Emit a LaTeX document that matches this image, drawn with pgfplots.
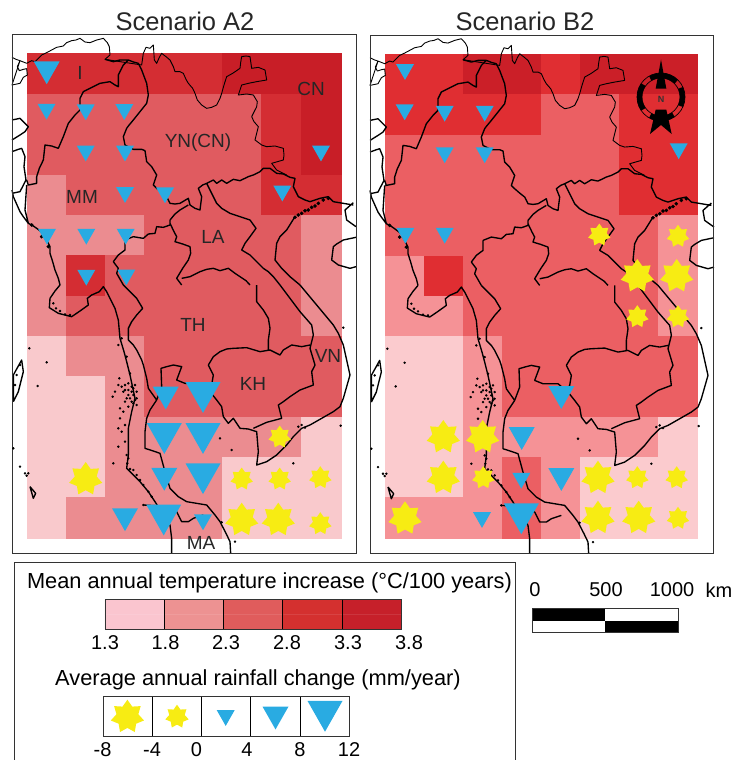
\documentclass[border=0pt]{standalone}
\usepackage{pgfplots}
\usepackage{pgfplotstable}
\pgfplotsset{compat=1.18}
\usepackage{fontspec}
\setmainfont{Liberation Sans}
\pgfplotsset{
 colormap={tA}{rgb255=(249,201,204) rgb255=(235,140,144) rgb255=(224,91,96) rgb255=(212,45,51) rgb255=(200,30,39)},
 colormap={tB}{rgb255=(251,203,206) rgb255=(245,146,150) rgb255=(235,95,99) rgb255=(224,46,50) rgb255=(203,31,40)},
 colormap={tL}{rgb255=(250,197,207) rgb255=(237,146,146) rgb255=(224,92,92) rgb255=(212,48,47) rgb255=(198,32,42)}
}
\definecolor{tri}{RGB}{41,171,226}
\definecolor{sta}{RGB}{247,236,19}
\pgfdeclareplotmark{dtri}{%
 \pgfpathmoveto{\pgfpoint{-\pgfplotmarksize}{0.88\pgfplotmarksize}}%
 \pgfpathlineto{\pgfpoint{\pgfplotmarksize}{0.88\pgfplotmarksize}}%
 \pgfpathlineto{\pgfpoint{0pt}{-0.88\pgfplotmarksize}}%
 \pgfpathclose\pgfusepathqfill}
\pgfdeclareplotmark{rstar}{%
 \pgfpathmoveto{\pgfpointpolar{90}{\pgfplotmarksize}}%
 \pgfpathlineto{\pgfpointpolar{115.71}{0.66*\pgfplotmarksize}}%
 \pgfpathlineto{\pgfpointpolar{141.43}{\pgfplotmarksize}}%
 \pgfpathlineto{\pgfpointpolar{167.14}{0.66*\pgfplotmarksize}}%
 \pgfpathlineto{\pgfpointpolar{192.86}{\pgfplotmarksize}}%
 \pgfpathlineto{\pgfpointpolar{218.57}{0.66*\pgfplotmarksize}}%
 \pgfpathlineto{\pgfpointpolar{244.29}{\pgfplotmarksize}}%
 \pgfpathlineto{\pgfpointpolar{270}{0.66*\pgfplotmarksize}}%
 \pgfpathlineto{\pgfpointpolar{295.71}{\pgfplotmarksize}}%
 \pgfpathlineto{\pgfpointpolar{321.43}{0.66*\pgfplotmarksize}}%
 \pgfpathlineto{\pgfpointpolar{347.14}{\pgfplotmarksize}}%
 \pgfpathlineto{\pgfpointpolar{12.86}{0.66*\pgfplotmarksize}}%
 \pgfpathlineto{\pgfpointpolar{38.57}{\pgfplotmarksize}}%
 \pgfpathlineto{\pgfpointpolar{64.29}{0.66*\pgfplotmarksize}}%
 \pgfpathclose\pgfusepathqfill}
% thin northern outlines (x=X/3, y=20+Y/3)
\pgfplotstableread{
X Y
36 112
48 118
60 122
52 140
58 152
70 148
80 146
82 165
70 172
60 190
36 195
nan nan
60 122
80 130
95 122
105 125
118 112
125 105
140 98
155 90
170 82
190 78
200 68
215 62
228 60
240 55
255 66
270 68
290 60
310 55
322 68
328 80
330 105
315 118
nan nan
425 135
430 100
438 82
450 85
460 75
463 120
470 130
478 112
485 100
498 110
510 120
520 140
525 155
540 155
550 160
558 178
565 190
578 205
585 220
592 240
605 255
620 265
635 262
650 255
660 235
665 220
672 195
680 170
698 160
720 145
722 128
725 110
738 108
750 110
755 145
775 142
795 150
800 180
770 185
745 190
725 195
715 225
740 222
760 225
772 245
770 260
755 290
762 305
775 320
770 340
765 360
785 375
800 380
825 378
850 385
852 405
850 420
815 430
830 450
860 465
}\outT
% main outlines, upper half
\pgfplotstableread{
X Y
315 118
340 125
360 120
385 120
400 126
415 130
425 150
440 190
445 225
440 250
420 275
400 300
385 318
380 325
370 350
375 375
400 388
425 388
435 392
440 425
455 440
470 465
460 495
470 505
485 518
500 530
510 550
525 552
540 550
565 535
570 555
585 565
600 570
605 530
595 505
608 495
620 490
640 480
650 490
665 480
680 490
700 478
720 482
745 470
760 465
780 455
790 445
810 445
830 460
850 462
870 472
885 475
880 500
895 530
915 540
930 545
960 535
985 530
1000 545
1030 550
1060 555
nan nan
1060 548
1035 570
1040 600
1068 620
nan nan
36 300
60 295
85 320
75 335
60 345
36 360
nan nan
36 395
55 388
65 385
75 410
72 440
78 480
60 515
36 520
nan nan
36 510
40 530
48 548
60 575
70 590
85 610
100 618
110 625
130 640
140 660
150 680
150 700
158 725
165 750
175 775
180 795
nan nan
385 120
370 135
355 165
355 200
345 195
330 185
300 190
270 205
250 215
240 235
240 270
225 285
205 310
190 350
175 385
155 378
135 375
130 420
118 445
110 470
110 490
85 495
80 480
nan nan
80 495
75 570
85 610
nan nan
510 600
525 582
540 570
565 555
nan nan
375 660
400 650
430 655
445 642
465 640
470 620
490 622
510 615
510 600
nan nan
510 610
522 635
530 650
525 665
548 672
570 680
572 700
565 720
548 745
530 775
545 795
nan nan
545 775
570 770
600 755
620 748
640 745
660 752
685 745
705 760
720 770
738 782
750 795
nan nan
620 490
630 510
640 530
650 550
665 565
690 580
720 590
750 600
768 625
750 650
735 670
725 690
750 705
770 725
790 745
805 755
820 770
840 795
nan nan
375 660
375 690
355 705
340 725
355 745
350 760
370 795
nan nan
885 590
860 630
840 650
830 670
825 720
845 745
870 770
900 795
nan nan
1068 652
1030 660
1010 672
1000 680
995 720
1015 735
1050 745
1068 740
}\outU
% outlines, lower half (x=X/3, y=285+Y/3)
\pgfplotstableread{
X Y
180 0
165 18
150 40
148 68
175 85
195 90
215 95
240 78
265 60
262 40
275 30
298 20
310 5
320 20
335 50
345 70
355 105
360 160
372 200
380 230
390 270
405 340
395 380
385 430
385 510
380 550
400 570
420 590
445 620
465 650
490 690
510 720
515 760
515 805
nan nan
370 0
395 25
410 40
428 70
410 90
395 110
385 130
385 165
400 180
410 195
425 225
430 240
440 280
445 310
470 345
450 375
440 400
435 440
435 490
460 498
480 505
495 560
510 610
535 635
560 650
590 655
620 660
645 690
660 710
678 745
690 770
692 805
nan nan
470 345
485 305
483 250
500 245
520 240
545 245
530 285
555 295
600 295
630 320
650 345
665 365
670 395
685 415
700 400
720 430
745 432
770 440
775 500
770 540
800 530
830 510
860 480
880 455
905 430
930 420
965 400
1000 380
1020 365
1030 340
1050 270
1040 225
1030 180
1015 145
1000 120
975 90
950 60
925 30
900 0
nan nan
625 240
640 215
660 200
680 192
700 190
740 188
780 200
810 195
840 210
850 195
875 180
905 185
930 180
nan nan
625 240
640 270
635 300
625 320
nan nan
770 0
770 50
790 75
805 100
810 130
805 165
805 195
nan nan
840 0
870 40
900 80
935 120
940 150
930 190
945 240
935 260
940 300
900 315
870 335
850 350
835 360
845 400
800 412
760 430
nan nan
40 350
40 270
65 225
70 260
55 320
40 350
nan nan
90 605
100 640
107 625
90 605
nan nan
430 660
465 662
500 670
530 680
545 710
565 710
580 700
610 690
}\outL
\pgfplotstableread{
X Y
355 180
365 160
380 215
390 265
358 280
355 300
345 320
338 335
375 300
385 295
395 305
405 300
410 320
400 330
385 330
395 350
375 350
400 310
370 320
405 345
365 305
375 315
385 315
395 320
380 340
390 340
410 340
400 355
385 365
410 360
360 370
370 380
360 400
375 420
365 440
355 430
375 470
380 510
355 485
385 520
382 535
390 552
400 555
410 570
420 585
430 600
445 620
455 635
40 490
60 545
75 565
85 565
80 572
140 232
113 303
88 190
340 535
430 660
660 460
695 495
880 535
1030 128
1022 422
705 770
665 712
895 425
905 420
915 428
160 55
168 70
180 78
195 88
210 90
45 300
50 270
60 240
}\dotsL
\pgfplotstableread{
X Y
885 592
895 585
905 580
915 572
925 570
935 562
945 558
955 550
970 540
985 535
95 615
125 650
145 680
}\dotsU
\newcommand{\outlines}[2]{%
 \addplot[black,line width=0.9pt,line join=round,forget plot] table[x expr=\thisrow{X}/3+#1,y expr=20+\thisrow{Y}/3+#2]{\outT};
 \addplot[black,line width=1.35pt,line join=round,unbounded coords=jump,forget plot] table[x expr=\thisrow{X}/3+#1,y expr=20+\thisrow{Y}/3+#2]{\outU};
 \addplot[black,line width=1.35pt,line join=round,unbounded coords=jump,forget plot] table[x expr=\thisrow{X}/3+#1,y expr=285+\thisrow{Y}/3+#2]{\outL};
 \addplot[only marks,mark=*,mark size=1.0pt,black,forget plot] table[x expr=\thisrow{X}/3+#1,y expr=285+\thisrow{Y}/3+#2]{\dotsL};
 \addplot[only marks,mark=*,mark size=1.6pt,black,forget plot] table[x expr=\thisrow{X}/3+#1,y expr=20+\thisrow{Y}/3+#2]{\dotsU};
}
\newcommand{\tris}[2]{\addplot[only marks,mark=dtri,mark size=#1pt,mark options={fill=tri,draw=none},forget plot] coordinates {#2};}
\newcommand{\stars}[2]{\addplot[only marks,mark=rstar,mark size=#1pt,mark options={fill=sta,draw=none},forget plot] coordinates {#2};}
\newcommand{\frm}[4]{\addplot[black!80,line width=0.9pt,forget plot] coordinates {(#1,#3) (#2,#3) (#2,#4) (#1,#4) (#1,#3)};}
\newcommand{\seg}[4]{\addplot[black,line width=0.9pt,forget plot] coordinates {(#1,#2) (#3,#4)};}
\newcommand{\lab}[3]{\node[text=black!85,font=\fontsize{19}{19}\selectfont,inner sep=0pt] at (axis cs:#1,#2) {#3};}
\newcommand{\ticklab}[3]{\node[text=black,font=\fontsize{20}{20}\selectfont,inner sep=0pt] at (axis cs:#1,#2) {#3};}
\newcommand{\ttl}[3]{\node[text=black,font=\fontsize{21.8}{21.8}\selectfont,inner sep=0pt] at (axis cs:#1,#2) {#3};}
\begin{document}
\begin{tikzpicture}
\useasboundingbox (0,0) rectangle (735pt,760pt);
\begin{axis}[at={(0,0)},anchor=south west,width=735pt,height=760pt,scale only axis,
 xmin=0,xmax=735,ymin=0,ymax=760,y dir=reverse,hide axis,clip=true,
 point meta min=1.3,point meta max=3.8,colormap access=piecewise constant]
% Scenario A2 temperature
\addplot[matrix plot,colormap name=tA,mesh/cols=8,point meta=explicit,forget plot] coordinates {
(46.5,73.5)[3.05] (85.5,73.5)[3.05] (124.5,73.5)[3.05] (163.5,73.5)[3.05] (202.5,73.5)[3.05] (241.5,73.5)[3.55] (281,73.5)[3.55] (321,73.5)[3.55]
(46.5,114)[2.55] (85.5,114)[2.55] (124.5,114)[2.55] (163.5,114)[2.55] (202.5,114)[2.55] (241.5,114)[2.55] (281,114)[3.05] (321,114)[3.55]
(46.5,154.5)[2.55] (85.5,154.5)[2.55] (124.5,154.5)[2.55] (163.5,154.5)[2.55] (202.5,154.5)[2.55] (241.5,154.5)[2.55] (281,154.5)[3.05] (321,154.5)[3.55]
(46.5,195)[2.05] (85.5,195)[2.55] (124.5,195)[2.55] (163.5,195)[2.55] (202.5,195)[2.55] (241.5,195)[2.55] (281,195)[3.05] (321,195)[3.05]
(46.5,235)[2.05] (85.5,235)[2.05] (124.5,235)[2.05] (163.5,235)[2.55] (202.5,235)[2.55] (241.5,235)[2.55] (281,235)[2.55] (321,235)[2.05]
(46.5,275.5)[2.05] (85.5,275.5)[3.05] (124.5,275.5)[2.55] (163.5,275.5)[2.55] (202.5,275.5)[2.55] (241.5,275.5)[2.55] (281,275.5)[2.55] (321,275.5)[2.05]
(46.5,316)[2.05] (85.5,316)[2.55] (124.5,316)[2.55] (163.5,316)[2.55] (202.5,316)[2.55] (241.5,316)[2.55] (281,316)[2.55] (321,316)[2.05]
(46.5,356)[1.55] (85.5,356)[2.05] (124.5,356)[2.05] (163.5,356)[2.55] (202.5,356)[2.55] (241.5,356)[2.55] (281,356)[2.55] (321,356)[2.55]
(46.5,396.5)[1.55] (85.5,396.5)[1.55] (124.5,396.5)[2.05] (163.5,396.5)[2.55] (202.5,396.5)[2.55] (241.5,396.5)[2.55] (281,396.5)[2.55] (321,396.5)[2.55]
(46.5,437)[1.55] (85.5,437)[1.55] (124.5,437)[2.05] (163.5,437)[2.05] (202.5,437)[2.05] (241.5,437)[2.05] (281,437)[2.05] (321,437)[1.55]
(46.5,477)[1.55] (85.5,477)[1.55] (124.5,477)[2.05] (163.5,477)[2.05] (202.5,477)[2.05] (241.5,477)[1.55] (281,477)[1.55] (321,477)[1.55]
(46.5,517.5)[1.55] (85.5,517.5)[2.05] (124.5,517.5)[2.05] (163.5,517.5)[2.05] (202.5,517.5)[2.05] (241.5,517.5)[1.55] (281,517.5)[1.55] (321,517.5)[1.55]
};
% Scenario B2 temperature
\addplot[matrix plot,colormap name=tB,mesh/cols=8,point meta=explicit,forget plot] coordinates {
(404.5,74)[3.05] (443.5,74)[3.05] (482.5,74)[3.55] (521.5,74)[3.55] (560.5,74)[3.05] (599.5,74)[3.55] (638.5,74)[3.55] (677.5,74)[3.55]
(404.5,114.5)[3.05] (443.5,114.5)[3.05] (482.5,114.5)[3.05] (521.5,114.5)[3.05] (560.5,114.5)[2.55] (599.5,114.5)[2.55] (638.5,114.5)[3.05] (677.5,114.5)[3.05]
(404.5,155)[2.55] (443.5,155)[2.55] (482.5,155)[2.55] (521.5,155)[2.55] (560.5,155)[2.55] (599.5,155)[2.55] (638.5,155)[3.05] (677.5,155)[3.05]
(404.5,195)[2.55] (443.5,195)[2.55] (482.5,195)[2.55] (521.5,195)[2.55] (560.5,195)[2.55] (599.5,195)[2.55] (638.5,195)[3.05] (677.5,195)[3.05]
(404.5,235.5)[2.55] (443.5,235.5)[2.55] (482.5,235.5)[2.55] (521.5,235.5)[2.55] (560.5,235.5)[2.55] (599.5,235.5)[2.55] (638.5,235.5)[2.55] (677.5,235.5)[2.05]
(404.5,276)[2.05] (443.5,276)[3.05] (482.5,276)[2.55] (521.5,276)[2.55] (560.5,276)[2.55] (599.5,276)[2.55] (638.5,276)[2.55] (677.5,276)[2.05]
(404.5,316)[2.05] (443.5,316)[2.05] (482.5,316)[2.55] (521.5,316)[2.55] (560.5,316)[2.55] (599.5,316)[2.55] (638.5,316)[2.55] (677.5,316)[2.05]
(404.5,356)[1.55] (443.5,356)[1.55] (482.5,356)[2.05] (521.5,356)[2.55] (560.5,356)[2.55] (599.5,356)[2.55] (638.5,356)[2.55] (677.5,356)[2.55]
(404.5,396.5)[1.55] (443.5,396.5)[1.55] (482.5,396.5)[2.05] (521.5,396.5)[2.55] (560.5,396.5)[2.55] (599.5,396.5)[2.55] (638.5,396.5)[2.55] (677.5,396.5)[2.55]
(404.5,437)[1.55] (443.5,437)[1.55] (482.5,437)[2.05] (521.5,437)[2.05] (560.5,437)[2.05] (599.5,437)[2.05] (638.5,437)[2.05] (677.5,437)[1.55]
(404.5,477)[1.55] (443.5,477)[1.55] (482.5,477)[2.05] (521.5,477)[2.55] (560.5,477)[2.05] (599.5,477)[1.55] (638.5,477)[1.55] (677.5,477)[1.55]
(404.5,517.5)[2.05] (443.5,517.5)[2.05] (482.5,517.5)[2.05] (521.5,517.5)[2.55] (560.5,517.5)[2.05] (599.5,517.5)[1.55] (638.5,517.5)[1.55] (677.5,517.5)[1.55]
};
% legend colour bar
\addplot[matrix plot,colormap name=tL,mesh/cols=5,point meta=explicit,forget plot] coordinates {
(134.7,606.9)[1.55] (194,606.9)[2.05] (253.3,606.9)[2.55] (312.6,606.9)[3.05] (371.9,606.9)[3.55]
(134.7,621.6)[1.55] (194,621.6)[2.05] (253.3,621.6)[2.55] (312.6,621.6)[3.05] (371.9,621.6)[3.55]
};
% maps
\outlines{0}{0}
\outlines{358}{0.4}
% panel frames
\frm{12}{356}{34.7}{553.7}
\frm{370.5}{713}{35}{553}
% Scenario A2 rainfall
\tris{9}{(46.5,111.7) (85.7,112.3) (124.3,112) (85.7,153.5) (125,153.5) (125,195) (165,195.3) (282.3,193.5) (321,153.5) (47,236.7) (86.3,236.7) (125.7,236.7) (86.3,277.7) (126.3,277.5) (203,522.3)}
\tris{13}{(46.7,72.8) (165.7,398) (164.3,479.3) (125,519.7)}
\tris{17.5}{(203,397.5) (164.3,438.5) (203,438.5) (203,478.7) (163.7,520)}
\stars{11.5}{(279.7,437) (241.7,479) (279.7,479) (320.3,477.7) (320.3,523.7)}
\stars{17}{(85.7,479) (241.7,519.7) (278.3,519.7)}
% Scenario B2 rainfall
\tris{9}{(405,72) (404.7,112.3) (444.7,113.7) (484.7,113.7) (444.7,155.2) (484.7,155.2) (678.7,151.2) (405.3,235.7) (444.7,235.7) (521.3,480.7) (482,520)}
\tris{13}{(561.3,397.5) (521.7,438.5) (561.3,479.5)}
\tris{17.5}{(521.3,518.8)}
\stars{11.5}{(599.3,235) (678,236.3) (637.3,316.7) (678,316.7) (483.3,477.7) (637.3,477.7) (676.7,477.7) (678,518.3)}
\stars{17}{(637.3,276) (676.7,276) (443.3,437) (482.7,437) (443.3,477.7) (598,477.7) (405,518.3) (598,517.7) (638.7,517.7)}
% north arrow
\addplot[fill=black,draw=none,forget plot] coordinates {(661,59.5) (666.3,88.5) (655.7,88.5)} -- cycle;
\addplot[fill=black,draw=none,forget plot] coordinates {(655.7,109.5) (666.3,109.5) (671.7,134) (661,125) (650,134)} -- cycle;
\draw[black,line width=0.7pt] (axis cs:661,97) circle[radius=24pt];
\draw[black,line width=0.7pt] (axis cs:661,97) circle[radius=19pt];
\foreach \a/\b in {45/120,145/215,240/305,335/385}{
 \edef\tmp{\noexpand\draw[black,line width=5pt] (axis cs:661,97) ++(\a:21.5pt) arc[start angle=\a,end angle=\b,radius=21.5pt];}\tmp
}
\node[text=black!80,font=\bfseries\fontsize{9}{9}\selectfont,inner sep=0pt] at (axis cs:661,99) {N};
% titles and place names
\node[text=black!85,font=\fontsize{25.5}{25.5}\selectfont,inner sep=0pt] at (axis cs:185,21) {Scenario A2};
\node[text=black!85,font=\fontsize{25.5}{25.5}\selectfont,inner sep=0pt] at (axis cs:525,21) {Scenario B2};
\lab{80}{73}{I}
\lab{311}{89}{CN}
\lab{198}{143}{YN(CN)}
\lab{82}{197}{MM}
\lab{213}{237}{LA}
\lab{193}{325}{TH}
\lab{328}{356}{VN}
\lab{253}{384}{KH}
\lab{201}{543}{MA}
% legend box, open at the foot of the picture
\addplot[black!80,line width=0.9pt,forget plot] coordinates {(14.5,760) (14.5,562.7) (515,562.7) (515,760)};
\ttl{269.5}{582.5}{Mean annual temperature increase (°C/100 years)}
\frm{105}{401.5}{599.5}{629}
\seg{164.3}{599.5}{164.3}{629}
\seg{223.6}{599.5}{223.6}{629}
\seg{282.9}{599.5}{282.9}{629}
\seg{342.2}{599.5}{342.2}{629}
\ticklab{105}{643}{1.3}
\ticklab{165.5}{643}{1.8}
\ticklab{226}{643}{2.3}
\ticklab{287}{643}{2.8}
\ticklab{348}{643}{3.3}
\ticklab{409}{643}{3.8}
\ttl{258}{680}{Average annual rainfall change (mm/year)}
\frm{103.4}{349.3}{696.7}{736}
\seg{152.3}{696.7}{152.3}{736}
\seg{201.7}{696.7}{201.7}{736}
\seg{250.6}{696.7}{250.6}{736}
\seg{300.4}{696.7}{300.4}{736}
\stars{17}{(127.4,716.7)}
\stars{12}{(177,716.7)}
\tris{9}{(225.7,718)}
\tris{13}{(275.5,718)}
\tris{17.5}{(325,716.3)}
\ticklab{102.5}{749.5}{-8}
\ticklab{152}{749.5}{-4}
\ticklab{196.5}{749.5}{0}
\ticklab{247}{749.5}{4}
\ticklab{300}{749.5}{8}
\ticklab{349}{749.5}{12}
% scale bar
\addplot[fill=black,draw=none,forget plot] coordinates {(532,608.3) (605,608.3) (605,620.7) (532,620.7)} -- cycle;
\addplot[fill=black,draw=none,forget plot] coordinates {(605,620.7) (678,620.7) (678,632.7) (605,632.7)} -- cycle;
\frm{532}{678}{608.3}{632.7}
\ticklab{535}{590}{0}
\ticklab{606}{590}{500}
\ticklab{672}{590}{1000}
\ticklab{719}{590}{km}
\end{axis}
\end{tikzpicture}
\end{document}
